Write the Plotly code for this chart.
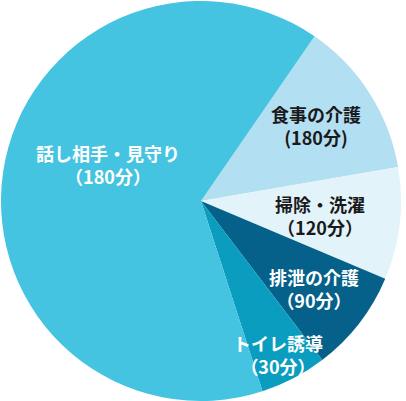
import plotly.graph_objects as go

# slice order, clockwise from the 食事 slice
categories = ["食事の介護", "掃除・洗濯", "排泄の介護", "トイレ誘導", "話し相手・見守り"]
minutes_labels = ["(180分)", "（120分）", "（90分）", "（30分）", "（180分）"]
# slice sizes as drawn (degrees of the circle)
sizes = [45.6, 32.7, 29.8, 19.4, 232.5]

colors = ["#B3DFF2", "#E3F3FA", "#05618A", "#0A9DBF", "#45C4E1"]
text_colors = ["#1a1a1a", "#1a1a1a", "white", "white", "white"]
# label block centres in pixels (x, y from top)
label_pos = [(316, 125), (320, 215), (314, 288), (278, 354), (108, 164)]

W, H = 406, 401

fig = go.Figure(
    go.Pie(
        labels=categories,
        values=sizes,
        sort=False,
        direction="clockwise",
        rotation=34.6,
        marker=dict(colors=colors, line=dict(width=0)),
        textinfo="none",
        hoverinfo="label",
        showlegend=False,
        domain=dict(x=[1 / W, 401 / W], y=[0, 400 / H]),
    )
)

for name, mins, tc, (px, py) in zip(categories, minutes_labels, text_colors, label_pos):
    fig.add_annotation(
        text=f"{name}<br>{mins}",
        x=px / W, y=1 - py / H,
        xref="paper", yref="paper",
        xanchor="center", yanchor="middle",
        showarrow=False,
        font=dict(family="Noto Sans CJK JP", size=18, color=tc, weight="bold"),
    )

fig.update_layout(
    width=W, height=H,
    margin=dict(l=0, r=0, t=0, b=0),
    paper_bgcolor="white",
    plot_bgcolor="white",
)

fig.write_html("out.html", config={"displayModeBar": False},
               post_script="document.body.style.margin='0';")
